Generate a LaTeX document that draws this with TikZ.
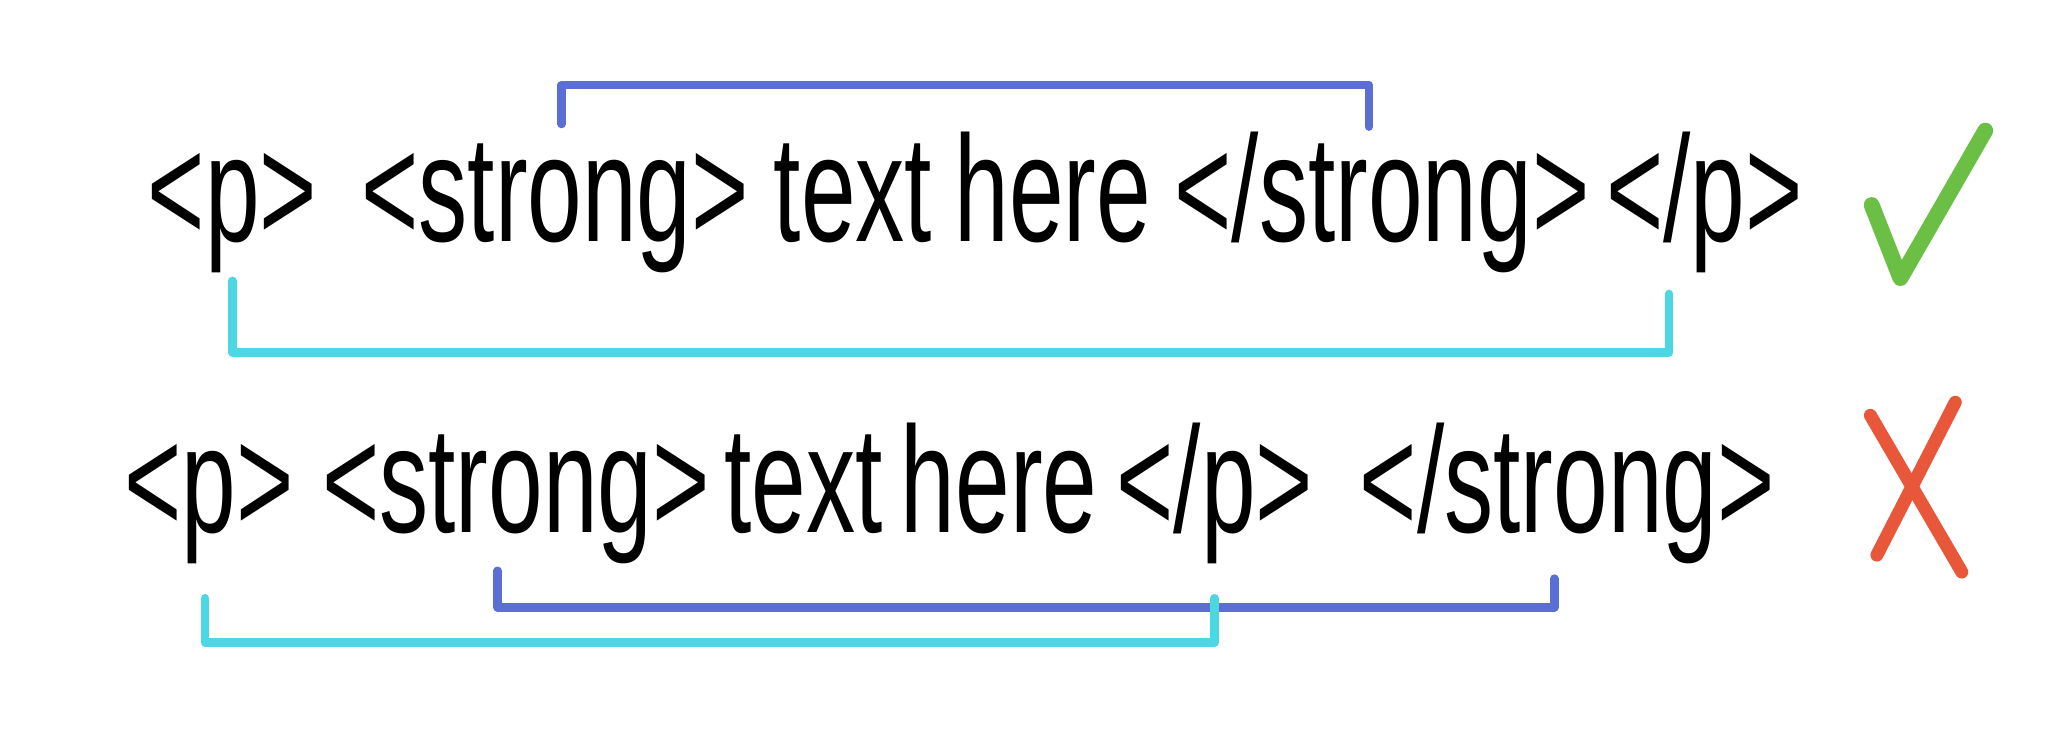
\documentclass[tikz,border=0pt]{standalone}
\usepackage{fontspec}
\newfontfamily\handfont[FakeStretch=0.65]{Liberation Sans}
\usetikzlibrary{calc}

\definecolor{sblue}{RGB}{91,110,214}
\definecolor{pcyan}{RGB}{77,214,227}
\definecolor{okgreen}{RGB}{108,191,69}
\definecolor{badred}{RGB}{232,87,58}

\begin{document}
\begin{tikzpicture}[x=0.013061cm, y=-0.013061cm,
    tag/.style={anchor=base, inner sep=0pt, font=\handfont\fontsize{43}{48}\selectfont},
    bracket/.style={line width=2.4pt, line cap=round, line join=round},
    pbrack/.style={bracket, draw=pcyan},
    sbrack/.style={bracket, draw=sblue},
    tick/.style={line cap=round, line join=round}
]
    \useasboundingbox (0,0) rectangle (1568,562);

    \node[tag] (po1) at (178, 185) {<p>};
    \node[tag] (so1) at (425, 185) {<strong>};
    \node[tag] (t1) at (653, 185) {text};
    \node[tag] (h1) at (806, 185) {here};
    \node[tag] (sc1) at (1058, 185) {</strong>};
    \node[tag] (pc1) at (1305, 185) {</p>};

    \node[tag] (po2) at (160, 408) {<p>};
    \node[tag] (so2) at (395, 408) {<strong>};
    \node[tag] (t2) at (615, 408) {text};
    \node[tag] (h2) at (765, 408) {here};
    \node[tag] (pc2) at (930, 408) {</p>};
    \node[tag] (sc2) at (1200, 408) {</strong>};

    \draw[sbrack] ($(so1.base)+(5,-90)$) -- ($(so1.base)+(5,-120)$) -| ($(sc1.base)+(-10,-88)$);
    \draw[pbrack] ($(po1.base)+(0,30)$) -- ($(po1.base)+(0,85)$) -| ($(pc1.base)+(-27,40)$);

    \draw[sbrack] ($(so2.base)+(-14,29)$) -- ($(so2.base)+(-14,57)$) -| ($(sc2.base)+(-10,35)$);
    \draw[pbrack] ($(po2.base)+(-3,50)$) -- ($(po2.base)+(-3,84)$) -| ($(pc2.base)+(0,50)$);

    \draw[tick, okgreen, line width=4.5pt] (1433,157) -- (1455,213) -- (1520,100);
    \draw[tick, badred, line width=3.7pt] (1432,318) -- (1502,438);
    \draw[tick, badred, line width=3.7pt] (1497,308) -- (1437,425);
\end{tikzpicture}
\end{document}
